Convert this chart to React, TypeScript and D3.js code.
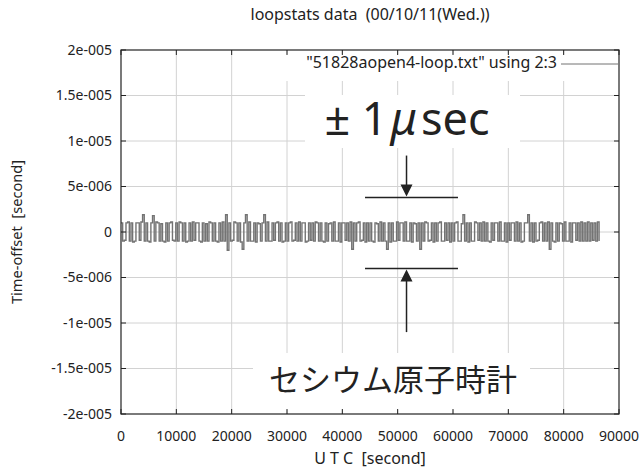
import React from "react";
import * as d3 from "d3";

// loopstats offset samples, in units of 0.1 microsecond, one every 300 s
const sampleInterval = 300;
const offsetTenthsUs = [
  10, -10, -9, 10, 11, -10, 10, -11, -10, 10, 10, -9, 11, 19, -10, 10, -10, -11, 10, 18,
  -10, 11, 10, -10, 9, -10, -11, 10, -10, 10, 11, -9, -10, 10, -10, 11, 10, -10, 10, -11,
  -10, 10, -10, 11, -9, 10, 10, -10, -11, 10, -10, 9, -10, 11, 10, -10, 10, -10, -11, 10,
  -10, 11, -10, 19, -20, 10, -10, -9, 11, 10, -10, 10, -11, -19, 10, 19, -10, 11, -10, -10,
  10, -11, 10, 9, -10, 10, 19, -10, 11, -10, -10, 10, -9, 10, 11, -10, 10, -11, -10, 10,
  -10, 10, 11, -10, -9, 10, -10, 11, -10, 10, 10, -11, -10, 10, -9, 10, -10, 11, 10, -10,
  10, -10, -11, 10, -10, 9, 10, -10, 11, -10, -10, 10, -11, 10, 10, -9, 10, -10, 11, -19,
  10, -10, 10, 11, -10, -9, 10, -11, 10, -10, 10, -10, -11, 10, 9, -10, 11, -10, 10, -10,
  -19, 10, -11, 10, -10, -10, 11, -9, 10, 10, -10, 11, -10, -10, 10, -11, 10, 9, -10, 10,
  -19, 10, -10, 11, 10, -10, -9, 10, -11, 10, -10, 10, 11, -10, -10, 10, -9, 10, -11, 10,
  -10, 10, 11, -10, -10, 9, 19, -10, 10, -11, 10, -10, -10, 11, 10, -9, 10, -10, 11, -10,
  10, -10, -11, 10, -9, 10, 10, -10, 11, -10, -10, 10, -11, 10, -9, 10, 10, -10, 11, -10,
  10, -11, -10, 10, 10, 19, -10, 10, -11, 10, -10, -9, 10, 11, -10, 10, -10, 11, -19, 10,
  -10, -11, 10, -10, 10, 9, -10, 11, -10, -10, 10, -11, 10, 10, -9, 10, -10, 11, -10, 10,
  -10, 11, -10, 10, -9, 10, -10, 11, -10,
];

const xTicks = [0, 10000, 20000, 30000, 40000, 50000, 60000, 70000, 80000, 90000];
const yTicks = [2e-5, 1.5e-5, 1e-5, 5e-6, 0, -5e-6, -1e-5, -1.5e-5, -2e-5];
const yTickLabels = ["2e-005", "1.5e-005", "1e-005", "5e-006", "0", "-5e-006", "-1e-005", "-1.5e-005", "-2e-005"];

// hand-drawn annotations (data units)
const bandTop = 3.8e-6;
const bandBottom = -4.0e-6;
const bandFrom = 44100;
const bandTo = 60900;
const arrowX = 51600;
const arrowTopStart = 8.4e-6;
const arrowBottomStart = -1.1e-5;

const W = 643;
const H = 470;
const margin = { top: 50, right: 24, bottom: 56, left: 121 };
const font = "'Noto Sans', 'Open Sans', sans-serif";

export default function App() {
  const x = d3.scaleLinear().domain([0, 90000]).range([margin.left, W - margin.right]);
  const y = d3.scaleLinear().domain([-2e-5, 2e-5]).range([H - margin.bottom, margin.top]);

  const points = offsetTenthsUs.map((v, i) => [i * sampleInterval, v * 1e-7] as [number, number]);
  const line = d3
    .line<[number, number]>()
    .x((d) => x(d[0]))
    .y((d) => y(d[1]))
    .curve(d3.curveStepAfter);

  const x0 = x(0), x1 = x(90000), yTop = y(2e-5), yBot = y(-2e-5);
  const tick = 5;
  const ax = x(arrowX);

  return (
    <svg width={W} height={H} style={{ position: "absolute", left: 0, top: 0, background: "#fff" }} fontFamily={font}>
      {/* grid */}
      <g stroke="#d2d2d2" strokeWidth={1}>
        {xTicks.slice(1, -1).map((t) => (
          <line key={"gx" + t} x1={x(t)} x2={x(t)} y1={yTop} y2={yBot} />
        ))}
        {yTicks.slice(1, -1).map((t) => (
          <line key={"gy" + t} x1={x0} x2={x1} y1={y(t)} y2={y(t)} />
        ))}
      </g>

      {/* white boxes behind the labels */}
      <rect x={280} y={yTop + 4} width={x1 - 281} height={27} fill="#fff" />
      <rect x={305} y={95} width={215} height={53} fill="#fff" />
      <rect x={253} y={353} width={277} height={57} fill="#fff" />

      {/* series */}
      <path d={line(points) ?? ""} fill="none" stroke="#737373" strokeWidth={1.4} />

      {/* frame and ticks */}
      <rect x={x0} y={yTop} width={x1 - x0} height={yBot - yTop} fill="none" stroke="#222" strokeWidth={1.2} />
      <g stroke="#222" strokeWidth={1}>
        {xTicks.map((t) => (
          <g key={"tx" + t}>
            <line x1={x(t)} x2={x(t)} y1={yBot} y2={yBot - tick} />
            <line x1={x(t)} x2={x(t)} y1={yTop} y2={yTop + tick} />
          </g>
        ))}
        {yTicks.map((t) => (
          <g key={"ty" + t}>
            <line x1={x0} x2={x0 + tick} y1={y(t)} y2={y(t)} />
            <line x1={x1} x2={x1 - tick} y1={y(t)} y2={y(t)} />
          </g>
        ))}
      </g>

      {/* tick labels */}
      <g fontSize={14} fill="#222">
        {xTicks.map((t) => (
          <text key={"lx" + t} x={x(t)} y={yBot + 27} textAnchor="middle">
            {t}
          </text>
        ))}
        {yTicks.map((t, i) => (
          <text key={"ly" + t} x={x0 - 9} y={y(t)} dy="0.35em" textAnchor="end">
            {yTickLabels[i]}
          </text>
        ))}
      </g>

      {/* titles */}
      <text x={(x0 + x1) / 2} y={20} textAnchor="middle" fontSize={16} fill="#222" style={{ whiteSpace: "pre" }}>
        {"loopstats data  (00/10/11(Wed.))"}
      </text>
      <text x={(x0 + x1) / 2} y={H - 6} textAnchor="middle" fontSize={16} fill="#222" style={{ whiteSpace: "pre" }}>
        {"U T C  [second]"}
      </text>
      <text
        transform={`translate(22,${(yTop + yBot) / 2}) rotate(-90)`}
        textAnchor="middle"
        fontSize={14.6}
        fill="#222"
        style={{ whiteSpace: "pre" }}
      >
        {"Time-offset  [second]"}
      </text>

      {/* key */}
      <text x={557} y={yTop + 18} textAnchor="end" fontSize={16} fill="#222">
        "51828aopen4-loop.txt" using 2:3
      </text>
      <line x1={561} x2={x1 - 1} y1={yTop + 14} y2={yTop + 14} stroke="#737373" strokeWidth={1} />

      {/* annotations */}
      <g stroke="#222" strokeWidth={1.5}>
        <line x1={x(bandFrom)} x2={x(bandTo)} y1={y(bandTop)} y2={y(bandTop)} />
        <line x1={x(bandFrom)} x2={x(bandTo)} y1={y(bandBottom)} y2={y(bandBottom)} />
        <line x1={ax} x2={ax} y1={y(arrowTopStart)} y2={y(bandTop) - 10} />
        <line x1={ax} x2={ax} y1={y(arrowBottomStart)} y2={y(bandBottom) + 10} />
      </g>
      <path
        d={`M${ax - 6},${y(bandTop) - 13} L${ax + 6},${y(bandTop) - 13} L${ax},${y(bandTop) - 1} Z`}
        fill="#222"
      />
      <path
        d={`M${ax - 6},${y(bandBottom) + 13} L${ax + 6},${y(bandBottom) + 13} L${ax},${y(bandBottom) + 1} Z`}
        fill="#222"
      />

      <text x={407} y={135} textAnchor="middle" fontSize={45} fill="#222">
        <tspan>± 1</tspan>
        <tspan fontStyle="italic" dx={3}>μ</tspan>
        <tspan dx={4}>sec</tspan>
      </text>
      <text x={393} y={391} textAnchor="middle" fontSize={31} fill="#222" fontFamily="'Noto Sans CJK JP', sans-serif">
        セシウム原子時計
      </text>
    </svg>
  );
}
